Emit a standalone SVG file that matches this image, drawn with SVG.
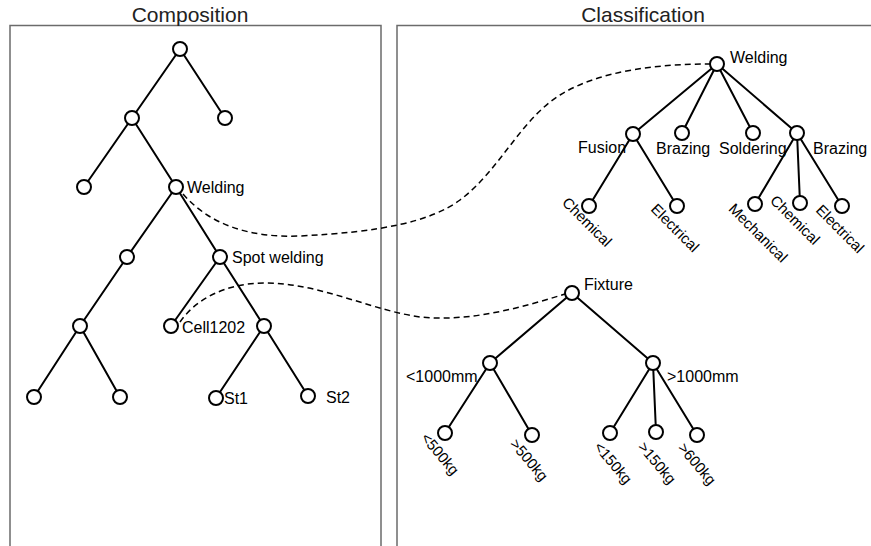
<svg xmlns="http://www.w3.org/2000/svg" width="871" height="546" viewBox="0 0 871 546">
<style>
.frame{fill:none;stroke:#6b6b6b;stroke-width:1.5}
.title{font-family:"Liberation Sans",Arial,sans-serif;font-size:21px;fill:#222;text-anchor:middle}
.lbl{font-family:"Liberation Sans",Arial,sans-serif;font-size:16px;fill:#000}
.rl{font-family:"Liberation Sans",Arial,sans-serif;font-size:15px;fill:#000;text-anchor:middle}
.edge{stroke:#000;stroke-width:2;fill:none}
.link{stroke:#000;stroke-width:1.5;fill:none;stroke-dasharray:6 4}
.n{fill:#fff;stroke:#000;stroke-width:2}
</style>
<rect width="871" height="546" fill="#fff"/>
<g id="frames">
<path class="frame" d="M10,560 V25.5 H381 V560"/>
<path class="frame" d="M397,560 V25.5 H880"/>
<text class="title" x="190" y="22">Composition</text>
<text class="title" x="643" y="22">Classification</text>
</g>
<g id="connectors">
<path class="edge" d="M180,49 L132,118 M180,49 L225,118 M132,118 L84,187 M132,118 L176,187 M176,187 L127,257 M176,187 L220,257 M127,257 L80,326 M80,326 L34,397 M80,326 L120,397 M220,257 L171,326 M220,257 L264,326 M264,326 L216,398 M264,326 L308,396"/>
<path class="edge" d="M717,64 L633,134 M717,64 L682,133 M717,64 L753,133 M717,64 L797,133 M633,134 L589,206 M633,134 L677,206 M797,133 L755,204 M797,133 L800,203 M797,133 L842,206"/>
<path class="edge" d="M572,293 L490,363 M572,293 L653,363 M490,363 L445,433 M490,363 L532,435 M653,363 L610,433 M653,363 L656,432 M653,363 L697,435"/>
<path class="link" d="M183,194 C210,225 250,238 300,236 C380,232 430,222 460,200 C500,170 520,120 560,95 C600,70 660,64 710,64"/>
<path class="link" d="M180,322 C195,300 225,283 265,283 C320,283 370,310 420,317 C470,322 520,308 565,294"/>
</g>
<g id="c-root"><circle class="n" cx="180" cy="49" r="7"/></g>
<g id="c-a"><circle class="n" cx="132" cy="118" r="7"/></g>
<g id="c-b"><circle class="n" cx="225" cy="118" r="7"/></g>
<g id="c-c"><circle class="n" cx="84" cy="187" r="7"/></g>
<g id="c-welding"><circle class="n" cx="176" cy="187" r="7"/><text class="lbl" x="187" y="193">Welding</text></g>
<g id="c-d"><circle class="n" cx="127" cy="257" r="7"/></g>
<g id="c-spot"><circle class="n" cx="220" cy="257" r="7"/><text class="lbl" x="232" y="263">Spot welding</text></g>
<g id="c-e"><circle class="n" cx="80" cy="326" r="7"/></g>
<g id="c-cell"><circle class="n" cx="171" cy="326" r="7"/><text class="lbl" x="182" y="333">Cell1202</text></g>
<g id="c-f"><circle class="n" cx="264" cy="326" r="7"/></g>
<g id="c-g"><circle class="n" cx="34" cy="397" r="7"/></g>
<g id="c-h"><circle class="n" cx="120" cy="397" r="7"/></g>
<g id="c-st1"><circle class="n" cx="216" cy="398" r="7"/><text class="lbl" x="224" y="404">St1</text></g>
<g id="c-st2"><circle class="n" cx="308" cy="396" r="7"/><text class="lbl" x="326" y="403">St2</text></g>
<g id="k-welding"><circle class="n" cx="717" cy="64" r="7"/><text class="lbl" x="730" y="63">Welding</text></g>
<g id="k-fusion"><circle class="n" cx="633" cy="134" r="7"/><text class="lbl" x="578" y="153">Fusion</text></g>
<g id="k-brazing1"><circle class="n" cx="682" cy="133" r="7"/><text class="lbl" x="656" y="154">Brazing</text></g>
<g id="k-soldering"><circle class="n" cx="753" cy="133" r="7"/><text class="lbl" x="719" y="154">Soldering</text></g>
<g id="k-brazing2"><circle class="n" cx="797" cy="133" r="7"/><text class="lbl" x="813" y="154">Brazing</text></g>
<g id="k-chem1"><circle class="n" cx="589" cy="206" r="7"/><text class="rl" transform="translate(587,222) rotate(45)" y="5">Chemical</text></g>
<g id="k-elec1"><circle class="n" cx="677" cy="206" r="7"/><text class="rl" transform="translate(675,228) rotate(45)" y="5">Electrical</text></g>
<g id="k-mech"><circle class="n" cx="755" cy="204" r="7"/><text class="rl" transform="translate(758,233) rotate(45)" y="5">Mechanical</text></g>
<g id="k-chem2"><circle class="n" cx="800" cy="203" r="7"/><text class="rl" transform="translate(795,220) rotate(45)" y="5">Chemical</text></g>
<g id="k-elec2"><circle class="n" cx="842" cy="206" r="7"/><text class="rl" transform="translate(840,229) rotate(45)" y="5">Electrical</text></g>
<g id="k-fixture"><circle class="n" cx="572" cy="293" r="7"/><text class="lbl" x="584" y="290">Fixture</text></g>
<g id="k-lt1000"><circle class="n" cx="490" cy="363" r="7"/><text class="lbl" x="406" y="382">&lt;1000mm</text></g>
<g id="k-gt1000"><circle class="n" cx="653" cy="363" r="7"/><text class="lbl" x="667" y="382">&gt;1000mm</text></g>
<g id="k-lt500"><circle class="n" cx="445" cy="433" r="7"/><text class="rl" transform="translate(440,454) rotate(50)" y="5">&lt;500kg</text></g>
<g id="k-gt500"><circle class="n" cx="532" cy="435" r="7"/><text class="rl" transform="translate(529,460) rotate(50)" y="5">&gt;500kg</text></g>
<g id="k-lt150"><circle class="n" cx="610" cy="433" r="7"/><text class="rl" transform="translate(613,463) rotate(50)" y="5">&lt;150kg</text></g>
<g id="k-gt150"><circle class="n" cx="656" cy="432" r="7"/><text class="rl" transform="translate(657,463) rotate(50)" y="5">&gt;150kg</text></g>
<g id="k-gt600"><circle class="n" cx="697" cy="435" r="7"/><text class="rl" transform="translate(697,464) rotate(50)" y="5">&gt;600kg</text></g>
</svg>
